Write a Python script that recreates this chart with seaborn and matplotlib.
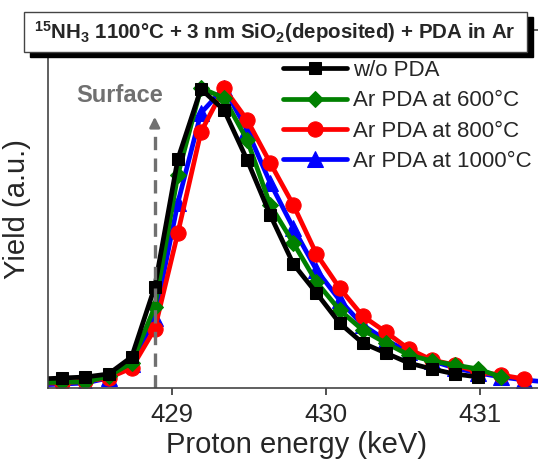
import matplotlib
matplotlib.use("Agg")
import matplotlib.pyplot as plt
from matplotlib.patches import Rectangle
import seaborn as sns
import pandas as pd

# Proton energy grid (keV), shared by all series
energy = [428.14, 428.29, 428.44, 428.59, 428.74, 428.89, 429.04, 429.19, 429.34,
          429.49, 429.64, 429.79, 429.94, 430.09, 430.24, 430.39, 430.54, 430.69,
          430.84, 430.99, 431.14, 431.29, 431.44]

# Yield (a.u.)
wo_pda = [9, 10, 11, 14, 31, 101, 229, 299, 278, 228, 173, 124, 95, 65, 45, 35,
          25, 19, 14, 11]
ar_600 = [5, 6, 6, 12, 25, 81, 213, 300, 290, 248, 183, 145, 106, 78, 58, 45, 33,
          27, 23, 19, 11]
ar_800 = [5, 5, 7, 10, 20, 59, 155, 256, 300, 268, 225, 183, 134, 100, 72, 56, 39,
          28, 23, 16, 13, 9]
ar_1000 = [3, 4, 5, 10, 24, 70, 185, 275, 300, 258, 205, 160, 118, 88, 63, 48, 36,
           27, 20, 15, 11, 8, 6]

labels = ["w/o PDA", "Ar PDA at 600°C", "Ar PDA at 800°C", "Ar PDA at 1000°C"]
series = [wo_pda, ar_600, ar_800, ar_1000]
colors = ["black", "#008000", "#ff0000", "#0000ff"]
markers = ["s", "D", "o", "^"]
msizes = [9, 8.5, 11, 11]

surface_e = 428.89

sns.set_style("ticks")
plt.rcParams["font.family"] = ["Liberation Sans", "DejaVu Sans"]
plt.rcParams["mathtext.fontset"] = "custom"
plt.rcParams["mathtext.rm"] = "Liberation Sans:bold"
plt.rcParams["mathtext.default"] = "rm"

fig = plt.figure(figsize=(5.38, 4.68), dpi=100)
ax = fig.add_axes([48 / 538, 1 - 388 / 468, (545 - 48) / 538, (388 - 30) / 468])

handles = {}
# draw in reverse so w/o PDA ends up on top
for lab, ys, c, m, ms in reversed(list(zip(labels, series, colors, markers, msizes))):
    df = pd.DataFrame({"energy": energy[:len(ys)], "yield": ys})
    sns.lineplot(data=df, x="energy", y="yield", ax=ax, color=c, marker=m,
                 markersize=ms, markeredgecolor=c, linewidth=3.4, label=lab,
                 legend=False)
    handles[lab] = ax.lines[-1]

ax.set_xlim(428.197, 431.424)
ax.set_ylim(0, 358)
ax.set_xticks([429, 430, 431])
ax.set_yticks([])
ax.tick_params(axis="x", labelsize=18.5, length=5, width=1.2, pad=6, color="#333333")
ax.set_xlabel("Proton energy (keV)", fontsize=21, labelpad=3)
ax.set_ylabel("Yield (a.u.)", fontsize=21, labelpad=12)
for s in ax.spines.values():
    s.set_color("#444444")
    s.set_linewidth(1.2)

# surface marker
ax.vlines(surface_e, 0, 262, colors="#707070", linewidth=2.4,
          linestyles=(0, (4, 2.5)))
ax.annotate("", xy=(surface_e, 274), xytext=(surface_e, 258),
            arrowprops=dict(arrowstyle="-|>", color="#707070", lw=2,
                            mutation_scale=15))
ax.text(428.66, 293, "Surface", fontsize=17, fontweight="bold", color="#707070",
        ha="center", va="center")

leg = fig.legend([handles[l] for l in labels], labels, loc="upper left",
                 bbox_to_anchor=(283 / 538, 1 - 60 / 468), frameon=False,
                 fontsize=16, handlelength=2.9, handletextpad=0.25,
                 labelspacing=0.42, borderpad=0, borderaxespad=0)

# title box with drop shadow
fig.add_artist(Rectangle((30 / 538, 1 - 57 / 468), 503 / 538, 40 / 468,
                         transform=fig.transFigure, facecolor="black",
                         edgecolor="black", zorder=5))
fig.add_artist(Rectangle((24 / 538, 1 - 52 / 468), 503 / 538, 40 / 468,
                         transform=fig.transFigure, facecolor="white",
                         edgecolor="#444444", linewidth=1, zorder=6))
fig.text(275 / 538, 1 - 32 / 468,
         r"$^{15}$NH$_3$ 1100°C + 3 nm SiO$_2$(deposited) + PDA in Ar",
         fontsize=14.8, fontweight="bold", ha="center", va="center", zorder=7)

fig.savefig("out.png", dpi=100)
